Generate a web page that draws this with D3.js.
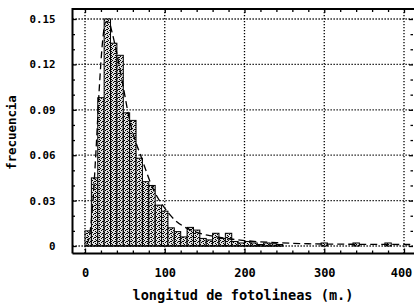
<!DOCTYPE html>
<html>
<head>
<meta charset="utf-8">
<script src="https://cdn.jsdelivr.net/npm/d3@7"></script>
<style>
  html, body { margin: 0; padding: 0; background: #fff; }
  svg { display: block; }
  text { font-family: "DejaVu Sans Mono", "Liberation Mono", monospace; font-weight: bold; fill: #000; }
</style>
</head>
<body>
<svg id="chart" width="414" height="305"></svg>
<script>
// ---- data ----
const binWidth = 8;
const binStarts = [0, 8, 16, 24, 32, 40, 48, 56, 64, 72, 80, 88, 96, 104, 112, 120, 128, 136, 144, 152, 160, 168, 176, 184, 192, 200, 208, 216, 224, 232, 240, 296, 336, 376];
const binFreq   = [0.010, 0.045, 0.098, 0.150, 0.134, 0.126, 0.088, 0.083, 0.058, 0.0425, 0.040, 0.027, 0.023, 0.012, 0.0095, 0.006, 0.0123, 0.0105, 0.005, 0.004, 0.0084, 0.005, 0.0084, 0.003, 0.002, 0.003, 0.002, 0.001, 0.002, 0.0015, 0.001, 0.002, 0.002, 0.002];
const curveX = [2, 6, 10, 14, 18, 22, 26, 30, 34, 40, 48, 56, 64, 69, 75, 82, 90, 100, 113, 124, 140, 160, 180, 200, 240, 280, 320, 360, 400, 412];
const curveY = [0.001, 0.008, 0.030, 0.065, 0.105, 0.135, 0.148, 0.148, 0.141, 0.127, 0.105, 0.083, 0.068, 0.061, 0.052, 0.042, 0.033, 0.025, 0.017, 0.0128, 0.009, 0.0065, 0.0048, 0.0036, 0.0022, 0.0015, 0.0012, 0.0011, 0.0010, 0.0010];
const xMajor = [0, 100, 200, 300, 400];
const xMinor = [20, 40, 60, 80, 120, 140, 160, 180, 220, 240, 260, 280, 320, 340, 360, 380, 420];
const yMajor = [0, 0.03, 0.06, 0.09, 0.12, 0.15];
const yLabels = ["0", "0.03", "0.06", "0.09", "0.12", "0.15"];
const yMinor = [0.01, 0.02, 0.04, 0.05, 0.07, 0.08, 0.10, 0.11, 0.13, 0.14];
const xTitle = "longitud de fotolineas (m.)";
const yTitle = "frecuencia";

// ---- layout ----
const svg = d3.select("#chart");
const frame = { left: 72.5, top: 9, right: 414, bottom: 253.5 };
const x = d3.scaleLinear().domain([0, 400]).range([85, 404]);
const y = d3.scaleLinear().domain([0, 0.15]).range([246, 19]);

// pattern for stippled bars
const defs = svg.append("defs");
const pat = defs.append("pattern").attr("id", "stip").attr("patternUnits", "userSpaceOnUse")
  .attr("width", 4).attr("height", 4);
pat.append("rect").attr("width", 4).attr("height", 4).attr("fill", "#e0e0e0");
[[0,0],[2,1],[1,2],[3,3],[3,1]].forEach(p => pat.append("rect").attr("x", p[0]).attr("y", p[1]).attr("width", 1).attr("height", 1).attr("fill", "#000"));

// gridlines (dotted)
const grid = svg.append("g").attr("stroke", "#000").attr("stroke-width", 1.3).attr("stroke-dasharray", "1.3,1.7").attr("fill", "none");
grid.selectAll("line.gx").data(xMajor).join("line").attr("class", "gx")
  .attr("x1", d => x(d)).attr("x2", d => x(d)).attr("y1", frame.top).attr("y2", frame.bottom);
grid.selectAll("line.gy").data(yMajor).join("line").attr("class", "gy")
  .attr("x1", frame.left).attr("x2", frame.right).attr("y1", d => y(d)).attr("y2", d => y(d));

// bars
svg.append("g").selectAll("rect").data(binStarts.map((s, i) => ({ s, f: binFreq[i] }))).join("rect")
  .attr("x", d => x(d.s))
  .attr("width", d => x(d.s + binWidth) - x(d.s))
  .attr("y", d => y(d.f))
  .attr("height", d => y(0) - y(d.f))
  .attr("fill", "url(#stip)")
  .attr("stroke", "#000").attr("stroke-width", 1);

// baseline under bars
svg.append("line").attr("x1", x(0)).attr("x2", x(binStarts[30] + binWidth)).attr("y1", y(0)).attr("y2", y(0))
  .attr("stroke", "#000").attr("stroke-width", 1);

// dashed fitted curve
svg.append("path")
  .datum(curveX.map((v, i) => [v, curveY[i]]))
  .attr("d", d3.line().x(d => x(d[0])).y(d => y(d[1])).curve(d3.curveMonotoneX))
  .attr("fill", "none").attr("stroke", "#000").attr("stroke-width", 1.3).attr("stroke-dasharray", "7,4");

// axes
function styleAxis(g) {
  g.select(".domain").remove();
  g.selectAll(".tick line").attr("stroke", "#000").attr("stroke-width", 1.3);
}
// left
svg.append("g").attr("transform", `translate(${frame.left},0)`)
  .call(d3.axisLeft(y).tickValues(yMajor).tickFormat((d, i) => yLabels[i]).tickSize(-4).tickPadding(17))
  .call(styleAxis)
  .call(g => g.selectAll("text").attr("font-size", "10.8px").attr("font-family", "'DejaVu Sans Mono', monospace").attr("font-weight", "bold"));
svg.append("g").attr("transform", `translate(${frame.left},0)`)
  .call(d3.axisLeft(y).tickValues(yMinor).tickFormat("").tickSize(-2.5)).call(styleAxis);
// right
svg.append("g").attr("transform", `translate(${frame.right - 1},0)`)
  .call(d3.axisRight(y).tickValues(yMajor).tickFormat("").tickSize(-4)).call(styleAxis);
svg.append("g").attr("transform", `translate(${frame.right - 1},0)`)
  .call(d3.axisRight(y).tickValues(yMinor).tickFormat("").tickSize(-2.5)).call(styleAxis);
// bottom
svg.append("g").attr("transform", `translate(0,${frame.bottom})`)
  .call(d3.axisBottom(x).tickValues(xMajor).tickSize(-5).tickPadding(15))
  .call(styleAxis)
  .call(g => g.selectAll("text").attr("font-size", "12px").attr("font-family", "'DejaVu Sans Mono', monospace").attr("font-weight", "bold")
    .attr("dx", d => d === 400 ? "-3px" : null));
svg.append("g").attr("transform", `translate(0,${frame.bottom})`)
  .call(d3.axisBottom(x).tickValues(xMinor).tickFormat("").tickSize(-3)).call(styleAxis);
// top
svg.append("g").attr("transform", `translate(0,${frame.top})`)
  .call(d3.axisTop(x).tickValues(xMajor).tickFormat("").tickSize(-4)).call(styleAxis);
svg.append("g").attr("transform", `translate(0,${frame.top})`)
  .call(d3.axisTop(x).tickValues(xMinor).tickFormat("").tickSize(-3)).call(styleAxis);

// frame
svg.append("path")
  .attr("d", `M${frame.left},${frame.bottom} L${frame.left},${frame.top} L${frame.right},${frame.top} M${frame.left},${frame.bottom} L${frame.right},${frame.bottom}`)
  .attr("fill", "none").attr("stroke", "#000").attr("stroke-width", 2);

// titles
svg.append("text").attr("x", 243).attr("y", 300).attr("text-anchor", "middle")
  .attr("font-size", "13.6px").text(xTitle);
svg.append("text").attr("transform", "translate(15.5,132.5) rotate(-90)").attr("text-anchor", "middle")
  .attr("font-size", "12.4px").text(yTitle);
</script>
</body>
</html>
